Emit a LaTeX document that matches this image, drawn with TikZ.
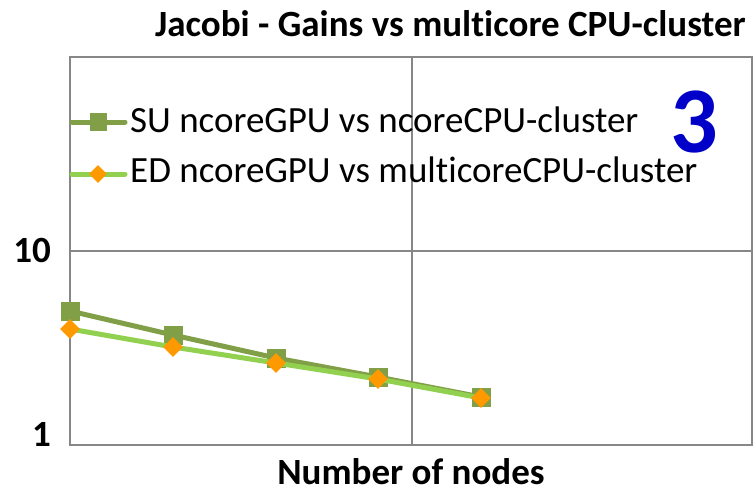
\documentclass[tikz,border=0pt]{standalone}
\usepackage{fontspec}
\setmainfont{Carlito}[Ligatures={NoCommon}]
\usetikzlibrary{shapes.geometric}
\definecolor{gridgray}{HTML}{878787}
\definecolor{sucol}{HTML}{809F47}
\definecolor{edline}{HTML}{92D050}
\definecolor{edmark}{HTML}{FF9900}
\definecolor{numblue}{HTML}{0000C8}
\begin{document}
\begin{tikzpicture}[x=1pt,y=-1pt,
  gridline/.style={draw=gridgray,line width=1.5pt},
  suline/.style={draw=sucol,line width=5pt,line join=round},
  edline/.style={draw=edline,line width=5pt,line join=round},
  sqmark/.style={rectangle,fill=sucol,minimum size=19pt,inner sep=0pt},
  dmmark/.style={diamond,fill=edmark,minimum size=20pt,inner sep=0pt},
  axlabel/.style={font=\bfseries\fontsize{37}{37}\selectfont,inner sep=0pt,text depth=0pt},
  legtext/.style={font=\fontsize{37}{37}\selectfont,inner sep=0pt,anchor=base west}]
\useasboundingbox (0,0) rectangle (753,487);
\fill[white] (0,0) rectangle (753,487);

% plot area: grid and frame (log scale, one decade = 194 units)
\coordinate (tl) at (70,57);
\coordinate (tr) at (752,57);
\coordinate (bl) at (70,445);
\coordinate (br) at (752,445);
\coordinate (g10l) at (70,251);
\coordinate (g10r) at (752,251);
\coordinate (vt) at (412,57);
\coordinate (vb) at (412,445);
\draw[gridline] (g10l) -- (g10r);
\draw[gridline] (vt) -- (vb);
\draw[gridline] (tl) -- (tr) -- (br) -- (bl) -- cycle;

% title and axis labels
\node[font=\bfseries\fontsize{37}{37}\selectfont,inner sep=0pt,anchor=base east] (title) at (746,37) {Jacobi - Gains vs multicore CPU-cluster};
\node[axlabel,anchor=base east] (y10) at (51,262) {10};
\node[axlabel,anchor=base east] (y1) at (51,446) {1};
\node[axlabel,anchor=base] (xlab) at (411,484) {Number of nodes};
\node[font=\bfseries\fontsize{94}{94}\selectfont,text=numblue,inner sep=0pt,text depth=0pt,anchor=base] (num) at (694,152) {3};

% SU series
\node[sqmark] (s1) at (70,311) {};
\node[sqmark] (s2) at (173,335) {};
\node[sqmark] (s3) at (276,358) {};
\node[sqmark] (s4) at (378,377) {};
\node[sqmark] (s5) at (481,397) {};
\draw[suline] (s1.center) -- (s2.center) -- (s3.center) -- (s4.center) -- (s5.center);
\foreach \x/\y in {70/311,173/335,276/358,378/377,481/397}
  \node[sqmark] at (\x,\y) {};

% ED series
\coordinate (e1) at (70,329);
\coordinate (e2) at (173,347);
\coordinate (e3) at (276,363);
\coordinate (e4) at (378,379);
\coordinate (e5) at (481,398);
\draw[edline] (e1) -- (e2) -- (e3) -- (e4) -- (e5);
\node[dmmark] (d1) at (e1) {};
\node[dmmark] (d2) at (e2) {};
\node[dmmark] (d3) at (e3) {};
\node[dmmark] (d4) at (e4) {};
\node[dmmark] (d5) at (e5) {};

% legend
\coordinate (la1) at (72,122);
\coordinate (la2) at (125,122);
\coordinate (lb1) at (72,174);
\coordinate (lb2) at (125,174);
\draw[suline,line cap=round] (la1) -- (la2);
\node[sqmark,minimum size=17pt] (lsq) at (98,122) {};
\draw[edline,line cap=round] (lb1) -- (lb2);
\node[dmmark,minimum size=18pt] (ldm) at (98,174) {};
\node[legtext] (lt1) at (130,132) {SU ncoreGPU vs ncoreCPU-cluster};
\node[legtext] (lt2) at (130,182) {ED ncoreGPU vs multicoreCPU-cluster};
\end{tikzpicture}
\end{document}
